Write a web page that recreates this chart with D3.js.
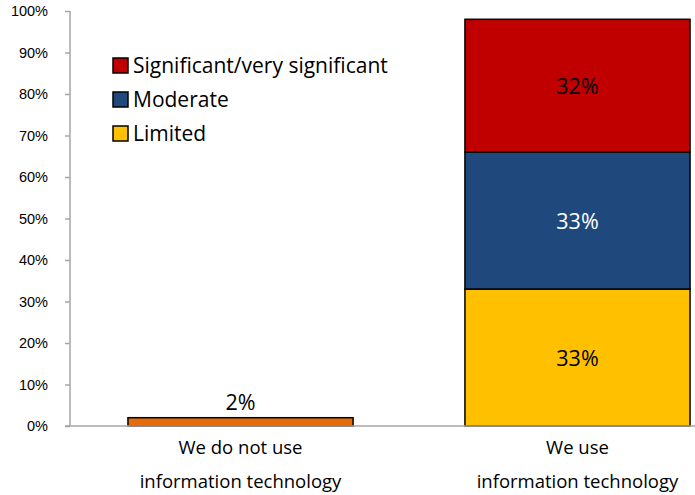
<!DOCTYPE html>
<html>
<head>
<meta charset="utf-8">
<script src="https://cdn.jsdelivr.net/npm/d3@7"></script>
<style>
  body { margin: 0; background: #fff; }
  svg { display: block; font-family: "Open Sans", "Liberation Sans", sans-serif; }
  .axis path, .axis line { stroke: #a6a6a6; stroke-width: 1.5; }
  .axis text { fill: #000; font-size: 14.5px; }
</style>
</head>
<body>
<script>
// categories and series (percent)
var categories = ["We do not use\ninformation technology", "We use\ninformation technology"];
var notUsed = [2, 0];
var limited = [0, 33];
var moderate = [0, 33];
var significant = [0, 32];
var yTicks = [0, 10, 20, 30, 40, 50, 60, 70, 80, 90, 100];
var colors = ["#e46c0a", "#ffc000", "#1f497d", "#c00000"];
var labelColors = ["#000", "#000", "#fff", "#000"];
var legendItems = ["Significant/very significant", "Moderate", "Limited"];
var legendColors = ["#c00000", "#1f497d", "#ffc000"];

var width = 695, height = 495;
var margin = { top: 11, right: 0, bottom: 69, left: 70 };

var rows = categories.map(function (c, i) {
  return { cat: c, s0: notUsed[i], s1: limited[i], s2: moderate[i], s3: significant[i] };
});
var layers = d3.stack().keys(["s0", "s1", "s2", "s3"])(rows);

var svg = d3.select("body").append("svg")
  .attr("width", width)
  .attr("height", height);

// plot area runs past the right edge of the picture, as in the original
var x = d3.scaleBand()
  .domain(categories)
  .range([margin.left, 748])
  .paddingInner(0.332)
  .paddingOuter(0.172);

var y = d3.scaleLinear()
  .domain([0, 100])
  .range([height - margin.bottom, margin.top]);

// y axis
var yAxis = svg.append("g")
  .attr("class", "axis")
  .attr("transform", "translate(" + margin.left + ",0)")
  .call(d3.axisLeft(y).tickValues(yTicks).tickSize(5).tickSizeOuter(0).tickPadding(17)
    .tickFormat(function (d) { return d + "%"; }));
yAxis.select(".domain").attr("d", "M0," + y(0) + "V" + y(100));

// bars
var groups = svg.selectAll(".layer")
  .data(layers)
  .enter().append("g")
  .attr("class", "layer")
  .attr("fill", function (d, i) { return colors[i]; });

groups.selectAll("rect")
  .data(function (d) { return d.filter(function (p) { return p[1] > p[0]; }); })
  .enter().append("rect")
  .attr("x", function (d) { return x(d.data.cat); })
  .attr("width", x.bandwidth())
  .attr("y", function (d) { return y(d[1]); })
  .attr("height", function (d) { return y(d[0]) - y(d[1]); })
  .attr("stroke", "#000")
  .attr("stroke-width", 1.5);

// value labels
layers.forEach(function (layer, li) {
  layer.forEach(function (p) {
    var v = p[1] - p[0];
    if (v <= 0) return;
    var cx = x(p.data.cat) + x.bandwidth() / 2;
    var ty = li === 0 ? y(p[1]) - 8 : (y(p[0]) + y(p[1])) / 2 + 8;
    svg.append("text")
      .attr("x", cx)
      .attr("y", ty)
      .attr("text-anchor", "middle")
      .attr("font-size", 21.5)
      .attr("fill", labelColors[li])
      .text(v + "%");
  });
});

// x axis line
svg.append("line")
  .attr("x1", margin.left - 5).attr("x2", width)
  .attr("y1", y(0)).attr("y2", y(0))
  .attr("stroke", "#a6a6a6").attr("stroke-width", 1.5);

// category labels
categories.forEach(function (c) {
  var t = svg.append("text")
    .attr("text-anchor", "middle")
    .attr("font-size", 18.5)
    .attr("fill", "#000");
  c.split("\n").forEach(function (line, k) {
    t.append("tspan")
      .attr("x", x(c) + x.bandwidth() / 2)
      .attr("y", 454 + k * 34)
      .text(line);
  });
});

// legend
var legend = svg.append("g").attr("transform", "translate(113,58)");
legendItems.forEach(function (name, i) {
  var g = legend.append("g").attr("transform", "translate(0," + i * 34 + ")");
  g.append("rect")
    .attr("width", 15).attr("height", 15)
    .attr("fill", legendColors[i])
    .attr("stroke", "#000").attr("stroke-width", 1.5);
  g.append("text")
    .attr("x", 20).attr("y", 15)
    .attr("font-size", 21)
    .attr("fill", "#000")
    .text(name);
});
</script>
</body>
</html>
